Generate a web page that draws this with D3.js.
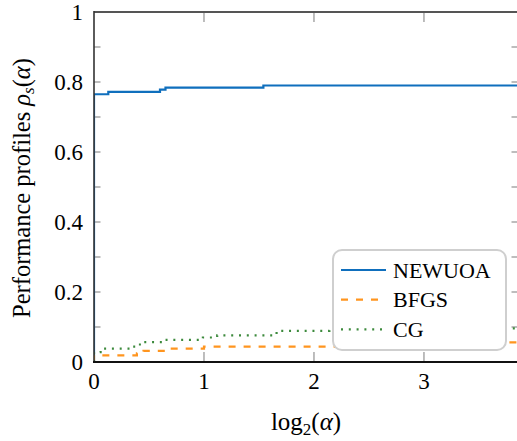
<!DOCTYPE html>
<html><head><meta charset="utf-8">
<script src="https://cdn.jsdelivr.net/npm/d3@7"></script>
<style>body{margin:0;background:#fff}svg{display:block}svg text{font-family:"Liberation Serif",serif}</style>
</head><body>
<script>
// Data
const seriesNames = ["NEWUOA", "BFGS", "CG"];
const newuoaX = [0, 0, 0.13, 0.60, 0.65, 1.54, 3.9];
const newuoaY = [0, 0.765, 0.772, 0.778, 0.784, 0.790, 0.790];
const bfgsX = [0, 0, 0.39, 0.45, 0.67, 1.0, 3.65, 3.9];
const bfgsY = [0, 0.019, 0.025, 0.032, 0.038, 0.044, 0.056, 0.056];
const cgX = [0, 0, 0.06, 0.34, 0.39, 0.43, 0.62, 0.99, 1.12, 1.66, 2.14, 3.2, 3.9];
const cgY = [0, 0.028, 0.038, 0.044, 0.050, 0.057, 0.063, 0.070, 0.076, 0.089, 0.092, 0.096, 0.096];
const xTicks = [1, 2, 3];
const xTickLabels = ["0", "1", "2", "3"];
const yTickLabels = [0, 0.2, 0.4, 0.6, 0.8, 1];
const yMinorTicks = [0.1,0.2,0.3,0.4,0.5,0.6,0.7,0.8,0.9];

const W = 517, H = 441;
const L = 94, R = 518, T = 12, B = 362;
const x = d3.scaleLinear().domain([0, 3.855]).range([L, R]);
const y = d3.scaleLinear().domain([0, 1]).range([B, T]);

const svg = d3.select("body").append("svg").attr("width", W).attr("height", H);

svg.append("defs").append("clipPath").attr("id","clip")
  .append("rect").attr("x", L).attr("y", T).attr("width", R - L).attr("height", B - T);

// ticks (gray, inward)
const tg = svg.append("g").attr("stroke", "#9a9a9a").attr("stroke-width", 1.3);
xTicks.forEach(v => {
  tg.append("line").attr("x1", x(v)).attr("x2", x(v)).attr("y1", B).attr("y2", B - 10);
  tg.append("line").attr("x1", x(v)).attr("x2", x(v)).attr("y1", T).attr("y2", T + 10);
});
yMinorTicks.forEach(v => {
  tg.append("line").attr("x1", L).attr("x2", L + 6.5).attr("y1", y(v)).attr("y2", y(v));
  tg.append("line").attr("x1", R).attr("x2", R - 6.5).attr("y1", y(v)).attr("y2", y(v));
});

// series
const colors = ["#0f6fbd", "#ff951f", "#3c8a3c"];
const dashes = [null, "7,8", "2,5.8"];
const datasets = [
  d3.zip(newuoaX, newuoaY),
  d3.zip(bfgsX, bfgsY),
  d3.zip(cgX, cgY)
];
const line = d3.line().x(d => x(d[0])).y(d => y(d[1])).curve(d3.curveStepAfter);
const pg = svg.append("g").attr("clip-path", "url(#clip)");
datasets.forEach((ds, i) => {
  pg.append("path").datum(ds).attr("d", line).attr("fill", "none")
    .attr("stroke", colors[i]).attr("stroke-width", 2.2)
    .attr("stroke-dasharray", dashes[i]);
});

// axis frame
svg.append("line").attr("x1", L).attr("x2", R).attr("y1", T).attr("y2", T).attr("stroke", "#555").attr("stroke-width", 2);
svg.append("line").attr("x1", L).attr("x2", L).attr("y1", T - 1).attr("y2", B + 1).attr("stroke", "#333").attr("stroke-width", 1.6);
svg.append("line").attr("x1", L - 1).attr("x2", R).attr("y1", B).attr("y2", B).attr("stroke", "#111").attr("stroke-width", 2);

// tick labels
const xl = svg.append("g").attr("text-anchor", "middle");
xTickLabels.forEach(t => {
  xl.append("text").style("font-size", "23px").attr("x", x(+t)).attr("y", 389).text(t);
});
const yl = svg.append("g").attr("text-anchor", "end");
yTickLabels.forEach(v => {
  yl.append("text").style("font-size", "23px").attr("x", 83).attr("y", y(v) + 7.5).text(d3.format("")(v));
});

// x axis label
const xt = svg.append("text").style("font-size", "25px")
  .attr("text-anchor", "middle").attr("x", 306).attr("y", 430);
xt.append("tspan").text("log");
xt.append("tspan").style("font-size", "17px").attr("dy", 5).text("2");
xt.append("tspan").attr("dy", -5).text("(");
xt.append("tspan").style("font-style", "italic").text("α");
xt.append("tspan").text(")");

// y axis label
const yt = svg.append("text").style("font-size", "24.5px")
  .attr("text-anchor", "middle").attr("transform", "translate(30,188) rotate(-90)");
yt.append("tspan").text("Performance profiles ");
yt.append("tspan").style("font-style", "italic").text("ρ");
yt.append("tspan").style("font-style", "italic").style("font-size", "17px").attr("dy", 4).text("s");
yt.append("tspan").attr("dy", -4).text("(");
yt.append("tspan").style("font-style", "italic").text("α");
yt.append("tspan").text(")");

// legend
const lg = svg.append("g");
lg.append("rect").attr("x", 333).attr("y", 250).attr("width", 173).attr("height", 100)
  .attr("rx", 9).attr("fill", "#fff").attr("stroke", "#cfcfcf").attr("stroke-width", 2);
seriesNames.forEach((n, i) => {
  const yy = 270 + i * 29.7;
  lg.append("line").attr("x1", 341).attr("x2", 386).attr("y1", yy).attr("y2", yy)
    .attr("stroke", colors[i]).attr("stroke-width", 2.2).attr("stroke-dasharray", dashes[i]);
  lg.append("text").attr("x", 393).attr("y", yy + 7.5).style("font-size", "22px").text(n);
});
</script>
</body></html>
